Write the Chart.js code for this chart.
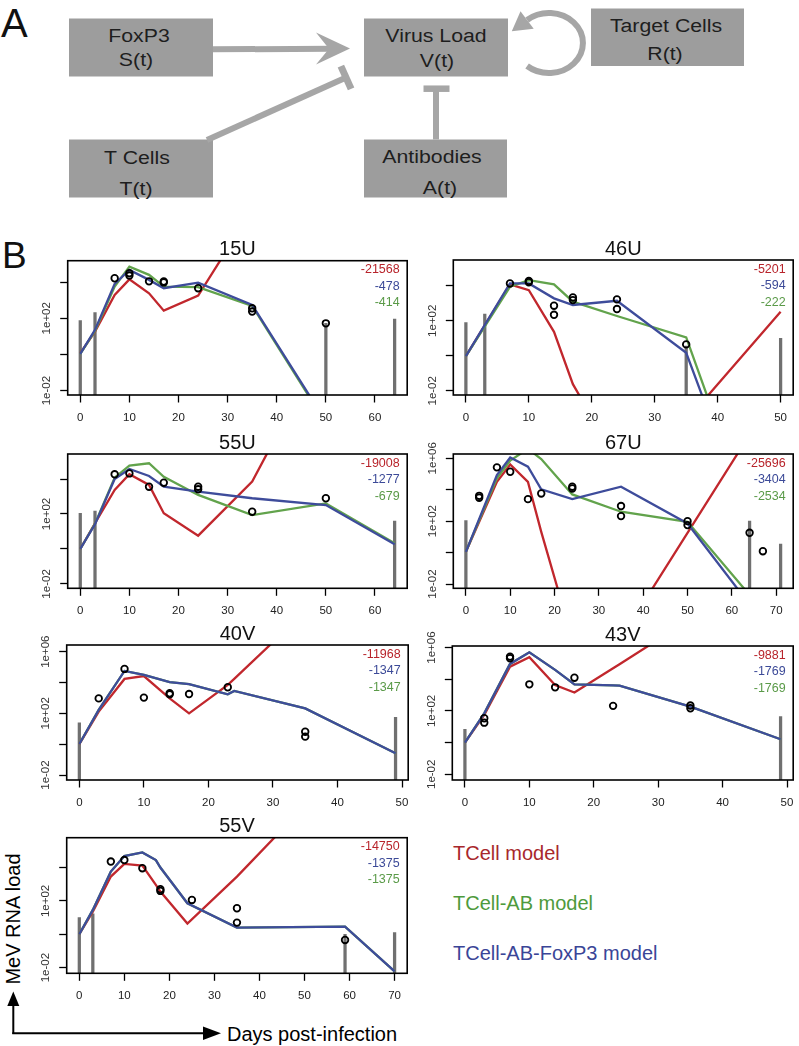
<!DOCTYPE html>
<html>
<head>
<meta charset="utf-8">
<script src="https://cdn.jsdelivr.net/npm/chart.js@4.4.1/dist/chart.umd.min.js"></script>
<style>
  html, body { margin: 0; padding: 0; background: #fff; }
  #page { position: relative; width: 799px; height: 1046px; overflow: hidden; }
  #page canvas { position: absolute; }
  #art { position: absolute; left: 0; top: 0; }
</style>
</head>
<body>
<div id="page">
<svg id="art" width="799" height="1046" font-family="Liberation Sans, Arial, sans-serif">
  <!-- panel A: model diagram -->
  <text x="1" y="36.7" font-size="40" fill="#111">A</text>
  <g fill="#9d9d9d">
    <rect x="69" y="18.5" width="144" height="58"/>
    <rect x="364" y="18.5" width="144" height="58"/>
    <rect x="591" y="8.5" width="153" height="57.5"/>
    <rect x="69" y="139.5" width="144" height="58"/>
    <rect x="364" y="139.5" width="143" height="58"/>
  </g>
  <g font-size="19" fill="#1e1e1e" text-anchor="middle">
    <text transform="translate(139,42) scale(1.12,1)">FoxP3</text>
    <text transform="translate(136,66) scale(1.12,1)">S(t)</text>
    <text transform="translate(436,42) scale(1.12,1)">Virus Load</text>
    <text transform="translate(437,66.5) scale(1.12,1)">V(t)</text>
    <text transform="translate(666,31.5) scale(1.12,1)">Target Cells</text>
    <text transform="translate(665,60) scale(1.12,1)">R(t)</text>
    <text transform="translate(137,164) scale(1.12,1)">T Cells</text>
    <text transform="translate(136,195) scale(1.12,1)">T(t)</text>
    <text transform="translate(432,162.5) scale(1.12,1)">Antibodies</text>
    <text transform="translate(440,193.5) scale(1.12,1)">A(t)</text>
  </g>
  <g stroke="#a6a6a6" fill="none" stroke-width="6">
    <line x1="213" y1="49.3" x2="332" y2="48.8"/>
    <line x1="207" y1="140" x2="345" y2="78"/>
    <line x1="340.9" y1="66.1" x2="351.1" y2="88.9" stroke-width="7"/>
    <line x1="436" y1="139.5" x2="436" y2="91"/>
    <line x1="423.5" y1="88.7" x2="449.5" y2="88.7" stroke-width="6.5"/>
    <path d="M 527.1 20 A 34 30 0 1 1 527.1 66"/>
  </g>
  <g fill="#a6a6a6">
    <polygon points="350,48.5 316,32.5 329,48.8 316,64.5"/>
    <polygon points="511.8,31.3 533.7,28.8 520.5,11.2"/>
  </g>

  <!-- panel B: labels, legend, axis arrows -->
  <text x="2" y="268" font-size="37" fill="#111">B</text>
  <g font-size="20">
    <text x="453" y="860" fill="#a8282c">TCell model</text>
    <text x="453" y="910" fill="#4e9a3c">TCell-AB model</text>
    <text x="453" y="960" fill="#3a4597">TCell-AB-FoxP3 model</text>
  </g>
  <text transform="translate(19.5,919) rotate(-90)" text-anchor="middle" font-size="20" fill="#000">MeV RNA load</text>
  <text x="227" y="1041" font-size="20" fill="#000">Days post-infection</text>
  <g stroke="#000" stroke-width="2">
    <line x1="13.3" y1="1034" x2="13.3" y2="1004"/>
    <line x1="12.3" y1="1033.3" x2="205" y2="1033.3"/>
  </g>
  <polygon points="13.3,991.5 7.3,1006 19.3,1006" fill="#000"/>
  <polygon points="221,1033.3 203,1026.5 203,1040" fill="#000"/>
</svg>
</div>
<script>
// x tick labels, days post-infection
const ticksTo50 = [0, 10, 20, 30, 40, 50];
const ticksTo60 = [0, 10, 20, 30, 40, 50, 60];
const ticksTo70 = [0, 10, 20, 30, 40, 50, 60, 70];
// y ticks (MeV RNA load) and the ones that carry a label
const loadTicks = [1e-2, 1, 1e2, 1e4, 1e6];
const loadLabels = [1e-2, 1e2, 1e6];
const models = ['TCell model', 'TCell-AB model', 'TCell-AB-FoxP3 model'];

// all loads below are log10 values
// 15U
const days15U   = [0, 3, 7, 10, 14, 17, 24, 35, 50, 64];
const tcell15U  = [0.07, 1.26, 3.29, 4.15, 3.38, 2.42, 3.25, 8.0, 14, 20];
const ab15U     = [0.03, 1.30, 3.75, 4.85, 4.40, 3.75, 3.72, 2.68, -3.8, -8];
const foxp315U  = [0.03, 1.36, 3.90, 4.67, 4.12, 3.66, 3.97, 2.74, -3.7, -8];
const obsDay15U = [7, 10, 10, 14, 17, 17, 24, 35, 35, 50];
const obs15U    = [4.21, 4.49, 4.36, 4.04, 4.03, 3.98, 3.66, 2.55, 2.37, 1.72];
const limDay15U = [0, 3, 50, 64];
const lim15U    = [1.87, 2.31, 1.72, 1.96];
const score15U  = [-21568, -414, -478];

// 46U
const days46U   = [0, 7, 10, 14, 17, 24, 35, 50];
const tcell46U  = [-0.02, 4.08, 3.75, 1.37, -1.62, -6, -3.7, 2.51];
const ab46U     = [-0.02, 3.94, 4.32, 4.08, 3.09, 2.27, 1.05, -14];
const foxp346U  = [-0.02, 4.13, 4.13, 3.28, 2.90, 3.14, 0.17, -14.3];
const obsDay46U = [7, 10, 10, 14, 14, 17, 17, 24, 24, 35];
const obs46U    = [4.13, 4.27, 4.20, 2.86, 2.34, 3.33, 3.18, 3.22, 2.67, 0.65];
const limDay46U = [0, 3, 35, 50];
const lim46U    = [1.89, 2.38, 0.55, 1.0];
const score46U  = [-5201, -222, -594];

// 55U
const days55U   = [0, 3, 7, 10, 14, 17, 24, 35, 50, 64];
const tcell55U  = [0.0, 1.47, 3.37, 4.27, 3.66, 2.04, 0.76, 3.85, 11.8, 18];
const ab55U     = [0.0, 1.45, 4.08, 4.76, 4.90, 4.13, 3.09, 1.94, 2.60, 0.32];
const foxp355U  = [0.0, 1.41, 4.00, 4.57, 4.17, 3.56, 3.28, 2.90, 2.51, 0.27];
const obsDay55U = [7, 10, 14, 17, 24, 24, 35, 50];
const obs55U    = [4.27, 4.32, 3.56, 3.79, 3.56, 3.41, 2.13, 2.90];
const limDay55U = [0, 3, 64];
const lim55U    = [2.04, 2.17, 1.60];
const score55U  = [-19008, -679, -1277];

// 67U
const days67U   = [0, 7, 10, 14, 17, 24, 35, 50, 64, 71];
const tcell67U  = [0.05, 4.50, 5.60, 4.50, 1.32, -5.5, -5.45, 1.26, 7.5, 10];
const ab67U     = [0.05, 4.72, 5.85, 6.60, 5.95, 3.70, 2.60, 1.96, -2.7, -5.0];
const foxp367U  = [0.05, 4.93, 6.05, 5.46, 4.02, 3.40, 4.19, 1.85, -3.3, -5.9];
const obsDay67U = [3, 3, 7, 10, 14, 17, 24, 24, 35, 35, 50, 50, 64, 67];
const obs67U    = [3.61, 3.49, 5.42, 5.14, 3.40, 3.76, 4.19, 4.08, 2.96, 2.32, 2.0, 1.75, 1.26, 0.09];
const limDay67U = [0, 64, 71];
const lim67U    = [2.04, 2.0, 0.54];
const score67U  = [-25696, -2534, -3404];

// 40V
const days40V   = [0, 3, 7, 10, 14, 17, 23, 24, 35, 49];
const tcell40V  = [0.01, 2.11, 4.23, 4.42, 2.97, 2.0, 3.84, 4.23, 8.6, 14];
const ab40V     = [0.01, 2.22, 4.75, 4.49, 4.03, 3.90, 3.23, 3.45, 2.32, -0.59];
const foxp340V  = [0.01, 2.22, 4.75, 4.49, 4.03, 3.90, 3.23, 3.45, 2.32, -0.59];
const obsDay40V = [3, 7, 10, 14, 14, 17, 23, 35, 35];
const obs40V    = [2.97, 4.88, 3.02, 3.30, 3.23, 3.25, 3.69, 0.81, 0.49];
const limDay40V = [0, 49];
const lim40V    = [1.39, 1.74];
const score40V  = [-11968, -1347, -1347];

// 43V
const days43V   = [0, 3, 7, 10, 14, 17, 23, 24, 35, 49];
const tcell43V  = [0.0, 1.75, 4.80, 5.39, 3.64, 3.16, 4.69, 4.95, 7.8, 12];
const ab43V     = [0.0, 1.85, 4.97, 5.70, 4.59, 3.68, 3.62, 3.60, 2.27, 0.21];
const foxp343V  = [0.0, 1.85, 4.97, 5.70, 4.59, 3.68, 3.62, 3.60, 2.27, 0.21];
const obsDay43V = [3, 3, 7, 7, 10, 14, 17, 23, 35, 35];
const obs43V    = [1.54, 1.26, 5.43, 5.33, 3.68, 3.49, 4.10, 2.32, 2.34, 2.17];
const limDay43V = [0, 49];
const lim43V    = [0.84, 1.64];
const score43V  = [-9881, -1769, -1769];

// 55V
const days55V   = [0, 3, 7, 10, 14, 17, 18, 24, 35, 59, 70];
const tcell55V  = [0.0, 1.36, 3.46, 4.22, 4.12, 2.96, 2.56, 0.64, 3.46, 10.2, 13];
const ab55V     = [0.0, 1.46, 3.76, 4.69, 4.91, 4.45, 4.0, 1.86, 0.40, 0.46, -2.23];
const foxp355V  = [0.0, 1.46, 3.76, 4.69, 4.91, 4.45, 4.0, 1.86, 0.40, 0.46, -2.23];
const obsDay55V = [7, 10, 14, 18, 18, 25, 35, 35, 59];
const obs55V    = [4.36, 4.45, 3.96, 2.70, 2.60, 2.06, 1.56, 0.70, -0.34];
const limDay55V = [0, 3, 59, 70];
const lim55V    = [1.0, 1.22, 0.0, 0.1];
const score55V  = [-14750, -1375, -1375];

const RED = '#c1272d', GREEN = '#62a34c', BLUE = '#3e4c9b';
const scoreColors = ['#b8242b', '#3c4a98', '#5a9a48'];
const FONT = '"Liberation Sans", Arial, sans-serif';
const FLOOR = 1e-6;

// box = plot region [left, top, right, bottom] in page pixels
const panels = [
  {title: '15U', box: [67.7, 260.7, 409, 395], xr: [-2.56, 66.56], yr: [-2.24, 5.18], xt: ticksTo60,
   days: days15U, tcell: tcell15U, ab: ab15U, foxp3: foxp315U, obsDay: obsDay15U, obs: obs15U, limDay: limDay15U, lim: lim15U, score: score15U},
  {title: '46U', box: [453.3, 260, 796.5, 395], xr: [-2, 52], yr: [-2.24, 5.47], xt: ticksTo50,
   days: days46U, tcell: tcell46U, ab: ab46U, foxp3: foxp346U, obsDay: obsDay46U, obs: obs46U, limDay: limDay46U, lim: lim46U, score: score46U},
  {title: '55U', box: [67.7, 454, 409, 588.3], xr: [-2.56, 66.56], yr: [-2.25, 5.43], xt: ticksTo60,
   days: days55U, tcell: tcell55U, ab: ab55U, foxp3: foxp355U, obsDay: obsDay55U, obs: obs55U, limDay: limDay55U, lim: lim55U, score: score55U},
  {title: '67U', box: [453.3, 454, 796.5, 588.3], xr: [-2.84, 73.84], yr: [-2.27, 6.27], xt: ticksTo70,
   days: days67U, tcell: tcell67U, ab: ab67U, foxp3: foxp367U, obsDay: obsDay67U, obs: obs67U, limDay: limDay67U, lim: lim67U, score: score67U},
  {title: '40V', box: [66.7, 645, 410, 780], xr: [-1.96, 50.96], yr: [-2.32, 6.43], xt: ticksTo50,
   days: days40V, tcell: tcell40V, ab: ab40V, foxp3: foxp340V, obsDay: obsDay40V, obs: obs40V, limDay: limDay40V, lim: lim40V, score: score40V},
  {title: '43V', box: [452.3, 646, 796, 780], xr: [-1.96, 50.96], yr: [-2.36, 6.1], xt: ticksTo50,
   days: days43V, tcell: tcell43V, ab: ab43V, foxp3: foxp343V, obsDay: obsDay43V, obs: obs43V, limDay: limDay43V, lim: lim43V, score: score43V},
  {title: '55V', box: [66.7, 837.7, 408.8, 973.3], xr: [-2.8, 72.8], yr: [-2.34, 5.79], xt: ticksTo70,
   days: days55V, tcell: tcell55V, ab: ab55V, foxp3: foxp355V, obsDay: obsDay55V, obs: obs55V, limDay: limDay55V, lim: lim55V, score: score55V}
];

const pow10 = v => Math.pow(10, v);
const pts = (days, logs) => days.map((d, i) => ({x: d, y: pow10(logs[i])}));
const bars = (days, logs) => days.map((d, i) => ({x: d, y: [FLOOR, pow10(logs[i])]}));
function sciLabel(v) {
  const e = Math.round(Math.log10(v));
  return '1e' + (e < 0 ? '-' : '+') + String(Math.abs(e)).padStart(2, '0');
}

function modelLine(label, data, color) {
  return {label, data, borderColor: color, borderWidth: 2.3, pointRadius: 0, pointHitRadius: 0, tension: 0, fill: false};
}

function drawPanel(p) {
  const [L, T, R, B] = p.box;
  const cl = L < 400 ? 0 : 400;
  const ct = Math.floor(T) - 30;
  const cw = Math.min(Math.ceil(R) + 4, 799) - cl;
  const ch = Math.ceil(B) + 32 - ct;
  const canvas = document.createElement('canvas');
  canvas.width = cw; canvas.height = ch;
  canvas.style.left = cl + 'px'; canvas.style.top = ct + 'px';
  canvas.style.width = cw + 'px'; canvas.style.height = ch + 'px';
  document.getElementById('page').appendChild(canvas);

  const yW = L - cl;
  const xH = ch - (B - ct);

  const frame = {
    id: 'rFrame',
    afterDatasetsDraw(chart) {
      const {ctx, chartArea: a} = chart;
      ctx.save();
      ctx.strokeStyle = '#000';
      ctx.lineWidth = 1.6;
      ctx.strokeRect(a.left, a.top, a.right - a.left, a.bottom - a.top);
      ctx.font = '12.5px ' + FONT;
      ctx.textAlign = 'right';
      ctx.textBaseline = 'alphabetic';
      // order shown in the figure: TCell, TCell-AB-FoxP3, TCell-AB
      [0, 2, 1].forEach((m, i) => {
        ctx.fillStyle = scoreColors[i];
        ctx.fillText(String(p.score[m]), a.right - 7.5, a.top + 12.5 + i * 16.6);
      });
      ctx.font = '20px ' + FONT;
      ctx.fillStyle = '#111';
      ctx.textAlign = 'center';
      ctx.fillText(p.title, (a.left + a.right) / 2, a.top - 5.5);
      ctx.restore();
    }
  };

  new Chart(canvas, {
    type: 'line',
    data: {
      datasets: [
        {label: 'observed', data: pts(p.obsDay, p.obs), showLine: false, pointRadius: 3.3,
         pointBorderWidth: 1.8, pointBorderColor: '#000', pointBackgroundColor: 'rgba(0,0,0,0)'},
        modelLine(models[2], pts(p.days, p.foxp3), BLUE),
        modelLine(models[1], pts(p.days, p.ab), GREEN),
        modelLine(models[0], pts(p.days, p.tcell), RED),
        {type: 'bar', label: 'below detection', data: bars(p.limDay, p.lim),
         backgroundColor: '#707070', borderWidth: 0, barThickness: 2.6}
      ]
    },
    options: {
      responsive: false,
      animation: false,
      devicePixelRatio: 1,
      events: [],
      layout: {padding: {left: 0, top: T - ct, right: cw - (R - cl), bottom: 0}},
      plugins: {legend: {display: false}, tooltip: {enabled: false}, title: {display: false}},
      scales: {
        x: {
          type: 'linear', min: p.xr[0], max: p.xr[1], offset: false,
          afterBuildTicks: s => { s.ticks = p.xt.map(v => ({value: v})); },
          afterFit: s => { s.height = xH; s.paddingLeft = 0; s.paddingRight = 0; },
          grid: {drawOnChartArea: false, drawTicks: true, tickLength: 7.5, tickColor: '#000', tickWidth: 1.3, offset: false},
          border: {display: false},
          ticks: {autoSkip: false, maxRotation: 0, padding: 8, color: '#222', font: {family: FONT, size: 11.5}}
        },
        y: {
          type: 'logarithmic', min: pow10(p.yr[0]), max: pow10(p.yr[1]),
          afterBuildTicks: s => { s.ticks = loadTicks.filter(v => v >= s.min && v <= s.max).map(v => ({value: v})); },
          afterFit: s => { s.width = yW; s.paddingTop = 0; s.paddingBottom = 0; },
          grid: {drawOnChartArea: false, drawTicks: true, tickLength: 7.5, tickColor: '#000', tickWidth: 1.3},
          border: {display: false},
          ticks: {autoSkip: false, minRotation: 90, maxRotation: 90, crossAlign: 'center', padding: -3,
                  color: '#333', font: {family: FONT, size: 11.5},
                  callback: v => loadLabels.includes(v) ? sciLabel(v) : ''}
        }
      }
    },
    plugins: [frame]
  });
}

panels.forEach(drawPanel);
</script>
</body>
</html>
